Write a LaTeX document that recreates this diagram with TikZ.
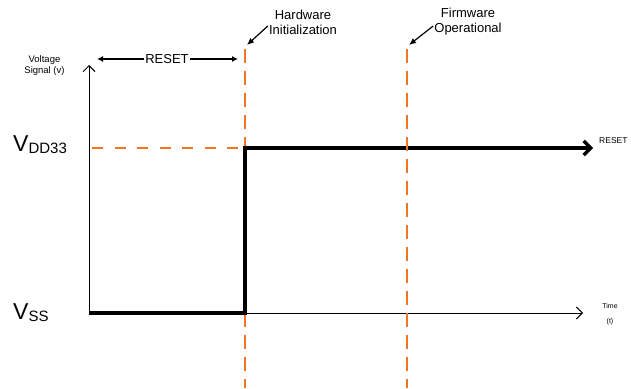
\documentclass[tikz,border=0pt]{standalone}
\usepackage{fontspec}
\setmainfont{Liberation Sans}
\usetikzlibrary{arrows.meta,positioning}

\definecolor{markorange}{RGB}{243,117,33}
\newcommand{\levelname}[2]{\fontsize{23}{23}\selectfont #1\raisebox{-2.5pt}{\fontsize{15}{15}\selectfont #2}}

\tikzset{
  axis/.style={line width=1pt,-{Straight Barb[length=6pt,width=12pt]}},
  signal/.style={line width=3.3pt,-{Straight Barb[length=7pt,width=14pt]}},
  marker/.style={markorange,line width=2pt,dash pattern=on 14pt off 8pt},
  level/.style={markorange,line width=2pt,dash pattern=on 11pt off 11.5pt},
  pointer/.style={line width=1.2pt,-{Latex[length=7pt,width=6pt]}},
  span/.style={line width=1.2pt,-{Latex[length=6pt,width=6pt]}},
  caption/.style={align=center,inner sep=1pt,font=\fontsize{13}{15}\selectfont},
  small/.style={align=center,inner sep=1pt,font=\fontsize{9.5}{11}\selectfont}
}

\begin{document}
\begin{tikzpicture}[x=1pt,y=-1pt]
  \useasboundingbox (0,0) rectangle (631,388);

  \coordinate (o) at (89,313);
  \coordinate (ytip) at (89,65);
  \coordinate (xtip) at (583,313);
  \coordinate (rise) at (245,313);
  \coordinate (risetop) at (245,148);
  \coordinate (sigend) at (593,148);
  \coordinate (hwtop) at (245,49);
  \coordinate (hwbot) at (245,388);
  \coordinate (fwtop) at (407,49);
  \coordinate (fwbot) at (407,388);
  \coordinate (vddstart) at (92,148);
  \coordinate (rstleft) at (97,59);
  \coordinate (rstright) at (238,59);
  \coordinate (hwtip) at (247,45);
  \coordinate (fwtip) at (409,45);

  % labels
  \node (vlab) [small] at (44.5,66) {Voltage\\Signal (v)};
  \node (rst) [inner sep=1pt,font=\fontsize{13}{13}\selectfont] at (167,59) {RESET};
  \node (hwlab) [caption] at (303,22) {Hardware\\Initialization};
  \node (fwlab) [caption] at (468,22) {Firmware\\Operational};
  \node (vdd) [anchor=base west,inner sep=0pt] at (13,151) {\levelname{V}{DD33}};
  \node (vss) [anchor=base west,inner sep=0pt] at (13,319) {\levelname{V}{SS}};
  \node (tlab) [align=center,inner sep=0pt,font=\fontsize{7}{15}\selectfont] at (610,314) {Time\\(t)};
  \node (rstout) [anchor=west,inner sep=0pt,font=\fontsize{8.5}{8.5}\selectfont] at (599,141) {RESET};

  % axes
  \draw [axis] (o) -- (ytip);
  \draw [axis] (rise) -- (xtip);

  % markers and signal
  \draw [level] (vddstart) -- (risetop);
  \draw [marker] (hwtop) -- (hwbot);
  \draw [signal] (o) -- (rise) -- (risetop) -- (sigend);
  \draw [marker] (fwtop) -- (fwbot);

  % annotations
  \draw [span] (rst.west) -- (rstleft);
  \draw [span] (rst.east) -- (rstright);
  \draw [pointer] ([yshift=-4pt]hwlab.west) -- (hwtip);
  \draw [pointer] ([yshift=-4pt]fwlab.west) -- (fwtip);
\end{tikzpicture}
\end{document}
